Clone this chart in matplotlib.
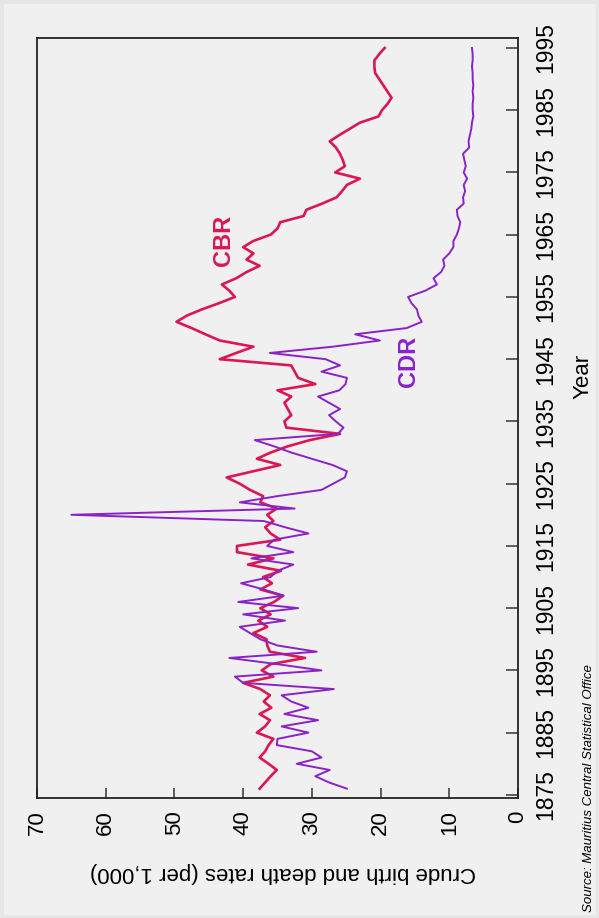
import numpy as np
import matplotlib
matplotlib.use("Agg")
import matplotlib.pyplot as plt
from matplotlib.patches import Rectangle

years = list(range(1876, 1996))

cbr = [37.6, 36.8, 36.0, 35.1, 36.3, 37.6, 36.8, 36.3, 35.6, 38.0,   # 1876-1885
       36.8, 36.1, 37.6, 35.9, 37.0, 36.1, 37.5, 40.0, 35.6, 37.3,   # 1886-1895
       36.0, 31.0, 36.1, 36.5, 36.6, 38.5, 36.5, 37.8, 36.0, 37.5,   # 1896-1905
       35.5, 34.2, 37.5, 35.8, 37.1, 34.5, 39.3, 35.6, 40.9, 40.9,   # 1906-1915
       34.6, 36.0, 36.8, 35.6, 36.5, 35.1, 37.5, 37.1, 39.0, 40.5,   # 1916-1925
       42.4, 38.5, 34.6, 38.0, 36.0, 33.5, 30.3, 25.9, 33.7, 34.0,   # 1926-1935
       33.0, 33.5, 34.0, 33.0, 35.0, 29.5, 32.0, 32.5, 33.0, 43.4,   # 1936-1945
       41.0, 38.5, 43.4, 45.5, 47.5, 49.7, 48.2, 46.0, 43.5, 41.2,   # 1946-1955
       42.0, 43.1, 41.0, 39.5, 37.6, 39.5, 38.5, 40.0, 38.5, 36.0,   # 1956-1965
       35.0, 34.6, 31.2, 30.8, 28.5, 26.4, 25.6, 24.9, 23.0, 26.6,   # 1966-1975
       25.2, 25.5, 25.9, 26.5, 27.4, 26.0, 24.5, 23.0, 20.3, 19.8,   # 1976-1985
       19.0, 18.4, 19.0, 19.6, 20.2, 20.8, 20.9, 20.9, 20.2, 19.4]   # 1986-1995

cdr = [24.9, 27.5, 29.5, 27.4, 32.2, 28.6, 30.0, 35.1, 35.0, 30.5,   # 1876-1885
       34.4, 29.1, 34.0, 30.5, 33.0, 34.4, 26.8, 40.0, 41.2, 28.6,   # 1886-1895
       35.0, 42.0, 29.3, 35.0, 37.5, 39.0, 40.5, 33.9, 40.0, 32.0,   # 1896-1905
       40.7, 34.1, 37.0, 40.3, 36.0, 35.0, 32.7, 38.8, 32.7, 36.5,   # 1906-1915
       35.5, 30.5, 33.9, 37.0, 65.0, 32.5, 40.5, 35.0, 28.6, 26.9,   # 1916-1925
       25.2, 24.9, 27.0, 30.0, 33.0, 35.5, 38.3, 26.2, 25.4, 26.5,   # 1926-1935
       27.5, 25.9, 27.5, 29.1, 26.0, 25.1, 24.9, 28.6, 25.9, 28.0,   # 1936-1945
       36.1, 27.0, 20.1, 23.7, 16.2, 14.0, 14.5, 14.7, 15.5, 16.0,   # 1946-1955
       13.5, 11.8, 12.3, 11.2, 10.7, 10.9, 10.0, 9.4, 9.4, 8.9,      # 1956-1965
       8.6, 8.4, 8.8, 8.9, 7.9, 8.0, 7.7, 7.9, 7.4, 7.9,             # 1966-1975
       7.6, 7.8, 8.0, 7.1, 7.2, 7.0, 6.8, 6.7, 6.5, 6.6,             # 1976-1985
       6.6, 6.5, 6.6, 6.5, 6.6, 6.6, 6.7, 6.6, 6.6, 6.7]             # 1986-1995

year_ticks = [1875, 1885, 1895, 1905, 1915, 1925, 1935, 1945, 1955, 1965, 1975, 1985, 1995]
rate_ticks = [0, 10, 20, 30, 40, 50, 60, 70]

bg = '#f0f0f0'
c_cbr = '#dc1652'
c_cdr = '#8a22c8'
sans = ['Liberation Sans', 'DejaVu Sans']

fig = plt.figure(figsize=(5.99, 9.18), dpi=100, facecolor=bg)
fig.patches.append(Rectangle((0, 0), 1, 1, transform=fig.transFigure, fill=False,
                             edgecolor='#e6e6e6', linewidth=5))

# the chart is shown turned a quarter turn: years run up the page, rates right-to-left
ax = fig.add_axes([37/599, 1 - 798/918, 481/599, 760/918])
ax.set_facecolor(bg)

ax.plot(cbr, years, color=c_cbr, lw=1.9, solid_joinstyle='round')
ax.plot(cdr, years, color=c_cdr, lw=1.4, solid_joinstyle='round')

ax.set_xlim(70, 0)
ax.set_ylim(1874.5, 1996.6)

ax.set_xticks(rate_ticks)
ax.set_yticks(year_ticks)
ax.yaxis.tick_right()
ax.tick_params(axis='x', direction='in', length=7.5, width=1.1, pad=9, labelsize=16,
               labelrotation=90, color='#333333')
ax.tick_params(axis='y', direction='in', length=9, width=1.1, pad=12, labelsize=16.5,
               labelrotation=90, color='#333333')
for lab in ax.get_xticklabels():
    lab.set_fontfamily(sans)
    lab.set_va('top')
    lab.set_ha('center')
for lab in ax.get_yticklabels():
    lab.set_fontfamily(sans)
    lab.set_ha('left')
    lab.set_va('center')

for s in ax.spines.values():
    s.set_linewidth(1.3)
    s.set_color('#222222')

ax.text(42.8, 1964.0, 'CBR', color=c_cbr, fontsize=17, fontweight='bold', rotation=90,
        ha='center', va='center', family=sans)
ax.text(16.0, 1944.6, 'CDR', color=c_cdr, fontsize=17, fontweight='bold', rotation=90,
        ha='center', va='center', family=sans)

fig.text(283/599, 1 - 872/918, 'Crude birth and death rates (per 1,000)', rotation=180,
         ha='center', va='center', fontsize=16, family=sans)
fig.text(583/599, 1 - 376/918, 'Year', rotation=90, ha='center', va='center',
         fontsize=16, family=sans)
fig.text(589/599, 1 - 912/918, 'Source: Mauritius Central Statistical Office', rotation=90,
         ha='center', va='bottom', fontsize=9.5, style='italic', family=sans)

fig.savefig('out.png', dpi=100, facecolor=bg)
